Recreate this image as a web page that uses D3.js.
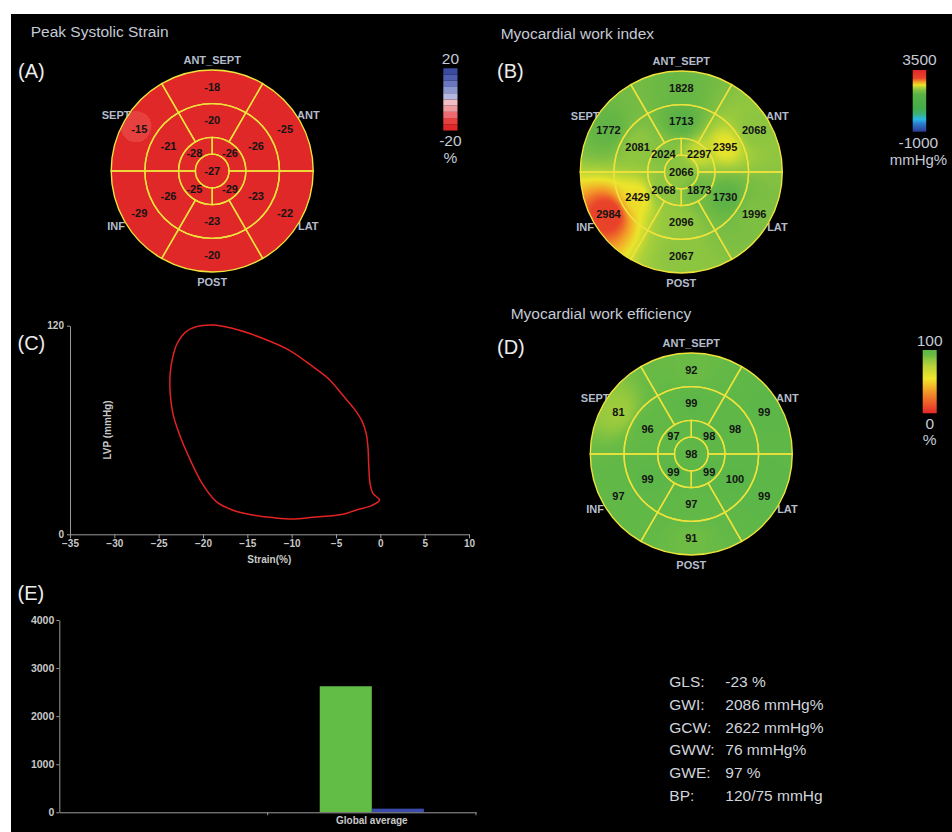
<!DOCTYPE html>
<html>
<head>
<meta charset="utf-8">
<script src="https://cdn.jsdelivr.net/npm/d3@7"></script>
<style>
body { margin: 0; background: #fff; }
svg { display: block; font-family: "Liberation Sans", Arial, sans-serif; }
</style>
</head>
<body>
<svg id="chart" width="952" height="832"></svg>
<script>
// walls, starting at 12 o'clock and going clockwise
const walls = ["ANT_SEPT", "ANT", "LAT", "POST", "INF", "SEPT"];

// (A) peak systolic strain, %
const strainBasal = [-18, -25, -22, -20, -29, -15];
const strainMid = [-20, -26, -23, -23, -26, -21];
const strainApical = [-28, -26, -29, -25]; // top-left, top-right, bottom-right, bottom-left
const strainApex = -27;

// (B) myocardial work index, mmHg%
const workBasal = [1828, 2068, 1996, 2067, 2984, 1772];
const workMid = [1713, 2395, 1730, 2096, 2429, 2081];
const workApical = [2024, 2297, 1873, 2068];
const workApex = 2066;

// (D) myocardial work efficiency, %
const effBasal = [92, 99, 99, 91, 97, 81];
const effMid = [99, 98, 100, 97, 99, 96];
const effApical = [97, 98, 99, 99];
const effApex = 98;

// (C) pressure-strain loop
const loopStrain = [-0.1, -0.84, -1.14, -1.3, -1.4, -1.6, -2.1, -3.0, -4.2, -5.7, -7.6, -10.3, -13.3, -16.7, -18.9,
  -20.8, -21.9, -22.9, -23.4, -23.7, -23.7, -23.4, -22.7, -21.6, -20.1, -18.5, -16.7, -14.4, -12.1, -9.9, -7.6, -4.2, -2.7, -1.0];
const loopLVP = [19.7, 23.6, 28.4, 38.9, 50.4, 58.1, 65.5, 72.5, 79.8, 88.8, 96.4, 106, 112.8, 118.5, 120.4,
  119.4, 116.6, 109.9, 102.2, 92.6, 81.1, 69.6, 58.1, 44.6, 29.3, 18.8, 14.0, 11.1, 9.6, 8.8, 9.8, 11.5, 14.0, 16.5];

// (E) global work
const barCategories = ["", "Global average"];
const barSeries = ["GCW", "GWW"];
const constructiveWork = [null, 2622];
const wastedWork = [null, 76];

const summaryLabels = ["GLS:", "GWI:", "GCW:", "GWW:", "GWE:", "BP:"];
const summaryValues = ["-23 %", "2086 mmHg%", "2622 mmHg%", "76 mmHg%", "97 %", "120/75 mmHg"];

const svg = d3.select("#chart");
const textColor = "#c4cad6";
const axisText = "#c8c8c8";
const lineYellow = "#eee23c";

svg.append("rect").attr("width", 952).attr("height", 832).attr("fill", "#fff");
svg.append("rect").attr("x", 11).attr("y", 14).attr("width", 941).attr("height", 818).attr("fill", "#000");

// colour scales
const strainColor = d3.scaleQuantize().domain([-20, 20])
  .range(["#e02828", "#e6403f", "#ec6a70", "#f09aa0", "#f4bcc4", "#b4b8e0", "#8d97d0", "#6b78c0", "#4e5fb2", "#3a4ca2"]);
const workColor = d3.scaleLinear()
  .domain([-1000, -400, -100, 300, 700, 1700, 2000, 2200, 2400, 2650, 2900, 3500])
  .range(["#2b3a94", "#2a7fd0", "#29b8e6", "#3cb07a", "#44ad4a", "#58b146", "#7ebf43", "#a8d03a", "#ece52b", "#f39a27", "#e9452a", "#e2262a"])
  .clamp(true);
const effColor = d3.scaleLinear()
  .domain([0, 30, 55, 75, 85, 92, 100])
  .range(["#e5282a", "#f28a28", "#f1e62a", "#b7d33a", "#8dc63f", "#6abb45", "#5bb648"])
  .clamp(true);

const rad = Math.PI / 180;
const R = 101;

function fieldImage(segs, color) {
  const size = 2 * R + 4;
  const half = size / 2;
  const canvas = document.createElement("canvas");
  canvas.width = size; canvas.height = size;
  const ctx = canvas.getContext("2d");
  const img = ctx.createImageData(size, size);
  for (let j = 0; j < size; j++) {
    for (let i = 0; i < size; i++) {
      const x = i + 0.5 - half, y = j + 0.5 - half;
      let ws = 0, vs = 0, hit = null;
      for (const s of segs) {
        const d2 = (x - s.x) ** 2 + (y - s.y) ** 2;
        if (d2 < 0.01) { hit = s.value; break; }
        const w = 1 / (d2 * Math.sqrt(d2));
        ws += w; vs += w * s.value;
      }
      const c = d3.rgb(color(hit !== null ? hit : vs / ws));
      const k = (j * size + i) * 4;
      img.data[k] = c.r; img.data[k + 1] = c.g; img.data[k + 2] = c.b; img.data[k + 3] = 255;
    }
  }
  ctx.putImageData(img, 0, 0);
  return { href: canvas.toDataURL(), size, half };
}

function bullseye(id, cx, cy, basal, mid, apical, apex, color) {
  const g = svg.append("g").attr("transform", `translate(${cx},${cy})`);
  const rings = [R, R * 2 / 3, R / 3, R / 6];
  const segs = [];
  basal.forEach((v, i) => segs.push({ inner: rings[1], outer: rings[0], start: (i * 60 - 30) * rad, end: (i * 60 + 30) * rad, value: v }));
  mid.forEach((v, i) => segs.push({ inner: rings[2], outer: rings[1], start: (i * 60 - 30) * rad, end: (i * 60 + 30) * rad, value: v }));
  apical.forEach((v, i) => segs.push({ inner: rings[3], outer: rings[2], start: (i * 90 - 90) * rad, end: (i * 90) * rad, value: v }));
  segs.push({ inner: 0, outer: rings[3], start: 0, end: 2 * Math.PI, value: apex });
  segs.forEach(s => {
    const a = (s.start + s.end) / 2;
    const r = s.inner === 0 ? 0 : (s.inner + s.outer) / 2;
    s.x = r * Math.sin(a);
    s.y = -r * Math.cos(a);
  });

  // wall names go under the disc
  g.selectAll("text.wall").data(walls).join("text")
    .attr("class", "wall")
    .attr("x", (d, i) => 111 * Math.sin(i * 60 * rad))
    .attr("y", (d, i) => -111 * Math.cos(i * 60 * rad))
    .attr("dy", "0.36em")
    .attr("text-anchor", "middle")
    .attr("font-size", 11).attr("font-weight", "bold")
    .attr("fill", "#b4bccc")
    .text(d => d);

  const f = fieldImage(segs, color);
  g.append("clipPath").attr("id", id).append("circle").attr("r", R);
  g.append("image")
    .attr("href", f.href)
    .attr("x", -f.half).attr("y", -f.half)
    .attr("width", f.size).attr("height", f.size)
    .attr("clip-path", `url(#${id})`);

  const arc = d3.arc()
    .innerRadius(d => d.inner).outerRadius(d => d.outer)
    .startAngle(d => d.start).endAngle(d => d.end);
  g.selectAll("path.seg").data(segs).join("path")
    .attr("class", "seg")
    .attr("d", arc)
    .attr("fill", "none")
    .attr("stroke", lineYellow)
    .attr("stroke-width", 1.4);

  g.selectAll("text.val").data(segs).join("text")
    .attr("class", "val")
    .attr("x", d => d.x).attr("y", d => d.y)
    .attr("dy", "0.36em")
    .attr("text-anchor", "middle")
    .attr("font-size", 11).attr("font-weight", "bold")
    .attr("fill", "#141414")
    .text(d => d.value);
}

function label(x, y, txt, size, anchor, fill) {
  svg.append("text").attr("x", x).attr("y", y).attr("dy", "0.35em")
    .attr("text-anchor", anchor || "start")
    .attr("font-size", size).attr("fill", fill || textColor)
    .text(txt);
}

// titles and panel letters
label(30.7, 31.7, "Peak Systolic Strain", 15.5);
label(500.7, 34, "Myocardial work index", 15.5);
label(510.7, 314, "Myocardial work efficiency", 15.5);
[["(A)", 18, 71], ["(B)", 497, 71], ["(C)", 17.5, 343], ["(D)", 497, 346.7], ["(E)", 17.5, 593.3]]
  .forEach(d => label(d[1], d[2], d[0], 20, "start", "#ececec"));

bullseye("clipA", 212.2, 171, strainBasal, strainMid, strainApical, strainApex, strainColor);
bullseye("clipB", 681.3, 172, workBasal, workMid, workApical, workApex, workColor);
bullseye("clipD", 691.3, 454, effBasal, effMid, effApical, effApex, effColor);

// colour bars
const defs = svg.append("defs");
function gradientBar(id, scale, x, y0, y1, w) {
  const [lo, hi] = d3.extent(scale.domain());
  const grad = defs.append("linearGradient").attr("id", id)
    .attr("x1", 0).attr("y1", 0).attr("x2", 0).attr("y2", 1);
  grad.selectAll("stop").data(scale.domain().slice().reverse()).join("stop")
    .attr("offset", d => (hi - d) / (hi - lo))
    .attr("stop-color", d => scale(d));
  svg.append("rect").attr("x", x).attr("y", y0).attr("width", w).attr("height", y1 - y0)
    .attr("fill", `url(#${id})`);
}

const strainBarY = d3.scaleLinear().domain([-20, 20]).range([130.5, 68.3]);
svg.append("g").selectAll("rect").data(strainColor.range()).join("rect")
  .attr("x", 443.3).attr("width", 14.2)
  .attr("y", c => strainBarY(strainColor.invertExtent(c)[1]))
  .attr("height", c => strainBarY(strainColor.invertExtent(c)[0]) - strainBarY(strainColor.invertExtent(c)[1]))
  .attr("fill", c => c);
label(450.4, 58.3, "20", 15.5, "middle");
label(450.4, 141, "-20", 15.5, "middle");
label(450.4, 158, "%", 15.5, "middle");

gradientBar("gradWork", workColor, 912.7, 70, 131.7, 13.5);
label(919.4, 60, "3500", 15.5, "middle");
label(918.4, 142.7, "-1000", 15.5, "middle");
label(918.4, 160, "mmHg%", 15, "middle");

gradientBar("gradEff", effColor, 922.7, 350, 413.3, 14);
label(929.7, 340.7, "100", 15.5, "middle");
label(929.7, 423.3, "0", 15.5, "middle");
label(929.7, 440, "%", 15.5, "middle");

function styleAxis(g) {
  g.selectAll("path, line").attr("stroke", "#9a9a9a");
  g.selectAll("text").attr("fill", axisText).attr("font-weight", "bold")
    .attr("font-family", "Liberation Sans, Arial, sans-serif");
}

// (C) pressure-strain loop
const xC = d3.scaleLinear().domain([-35, 10]).range([70, 469]);
const yC = d3.scaleLinear().domain([0, 120]).range([534.3, 325.7]);
svg.append("g").attr("transform", `translate(0,${yC(0)})`)
  .call(d3.axisBottom(xC).tickValues(d3.range(-35, 11, 5)).tickSize(4).tickPadding(2).tickSizeOuter(0))
  .call(styleAxis).call(g => g.selectAll("text").attr("font-size", 10));
svg.append("g").attr("transform", `translate(${xC(-35)},0)`)
  .call(d3.axisLeft(yC).tickValues([0, 120]).tickSize(3).tickPadding(3).tickSizeOuter(0))
  .call(styleAxis).call(g => g.selectAll("text").attr("font-size", 10));
svg.append("text").attr("x", 269.3).attr("y", 559).attr("dy", "0.35em")
  .attr("text-anchor", "middle").attr("font-size", 10).attr("font-weight", "bold").attr("fill", axisText)
  .text("Strain(%)");
svg.append("text").attr("transform", "translate(107,430) rotate(-90)").attr("dy", "0.35em")
  .attr("text-anchor", "middle").attr("font-size", 10).attr("font-weight", "bold").attr("fill", axisText)
  .text("LVP (mmHg)");

const loop = d3.line().x(d => xC(d[0])).y(d => yC(d[1])).curve(d3.curveCatmullRomClosed.alpha(0.5));
svg.append("path")
  .datum(d3.zip(loopStrain, loopLVP))
  .attr("d", loop)
  .attr("fill", "none")
  .attr("stroke", "#e32222")
  .attr("stroke-width", 1.5);

// (E) global work bars
const xE = d3.scaleBand().domain(barCategories).range([59.3, 476]);
const xSub = d3.scaleBand().domain(barSeries).range([0, xE.bandwidth()]).paddingOuter(1);
const yE = d3.scaleLinear().domain([0, 4000]).range([812.3, 620]);
const barColor = d3.scaleOrdinal().domain(barSeries).range(["#62bd46", "#3a4bab"]);

const barData = [];
barCategories.forEach((c, i) => {
  if (constructiveWork[i] !== null) barData.push({ cat: c, key: "GCW", value: constructiveWork[i] });
  if (wastedWork[i] !== null) barData.push({ cat: c, key: "GWW", value: wastedWork[i] });
});
svg.append("g").selectAll("rect").data(barData).join("rect")
  .attr("x", d => xE(d.cat) + xSub(d.key))
  .attr("width", xSub.bandwidth())
  .attr("y", d => yE(d.value))
  .attr("height", d => yE(0) - yE(d.value))
  .attr("fill", d => barColor(d.key));

svg.append("g").attr("transform", `translate(${xE.range()[0]},0)`)
  .call(d3.axisLeft(yE).tickValues(d3.range(0, 4001, 1000)).tickFormat(d3.format("d"))
    .tickSize(3).tickPadding(2).tickSizeOuter(0))
  .call(styleAxis).call(g => g.selectAll("text").attr("font-size", 10.5));
const xAxisE = svg.append("g").attr("transform", `translate(0,${yE(0)})`)
  .call(d3.axisBottom(xE).tickSize(0).tickPadding(5).tickSizeOuter(0))
  .call(styleAxis).call(g => g.selectAll("text").attr("font-size", 10));
xAxisE.selectAll("line.bound").data(barCategories).join("line")
  .attr("class", "bound")
  .attr("x1", (d, i) => xE.range()[0] + xE.step() * (i + 1))
  .attr("x2", (d, i) => xE.range()[0] + xE.step() * (i + 1))
  .attr("y1", 0).attr("y2", 3)
  .attr("stroke", "#9a9a9a");

// summary
summaryLabels.forEach((t, i) => {
  label(669.3, 681.7 + 22.7 * i, t, 15.5, "start", "#d0d4dc");
  label(725.3, 681.7 + 22.7 * i, summaryValues[i], 15.5, "start", "#d0d4dc");
});
</script>
</body>
</html>
